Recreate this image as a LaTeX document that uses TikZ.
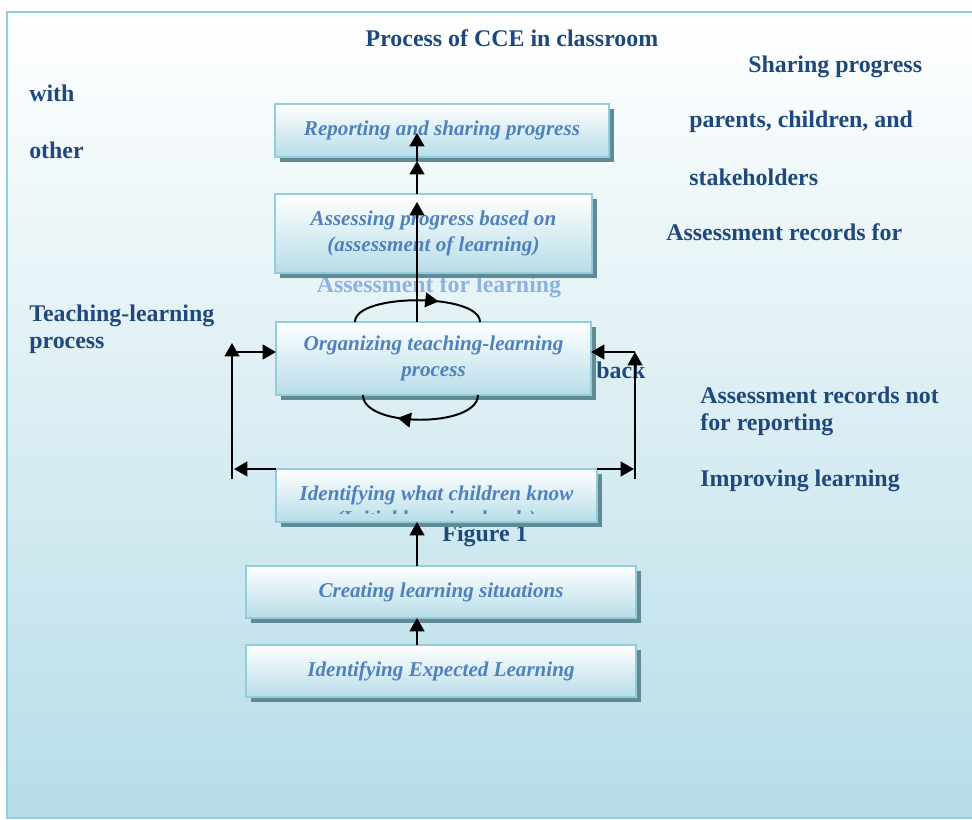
\documentclass[tikz,border=0pt]{standalone}
\usepackage{fontspec}
\setmainfont{Liberation Serif}
\usetikzlibrary{arrows.meta,calc,shadows,decorations.markings}
\definecolor{frameblue}{HTML}{92CDDC}
\definecolor{paleblue}{HTML}{B7DDE8}
\definecolor{darktext}{HTML}{1F497D}
\definecolor{boxtext}{HTML}{4F81BD}
\definecolor{lighttext}{HTML}{8DB3E2}
\definecolor{shadowgrey}{HTML}{628A95}
\tikzset{
  stage/.style={draw=frameblue, line width=1.4pt, top color=white, bottom color=paleblue,
    inner sep=0pt, outer sep=0pt, align=center, text=boxtext,
    font=\fontsize{15}{18}\selectfont\bfseries\itshape,
    drop shadow={shadow xshift=3.5pt, shadow yshift=-3.5pt, fill=shadowgrey, opacity=1}},
  note/.style={anchor=west, text=darktext, font=\fontsize{17}{19.2}\selectfont\bfseries,
    align=left, inner sep=0pt},
  arr/.style={line width=1.4pt, -{Triangle[length=9.5pt,width=10.5pt]}},
  cyclearr/.style={line width=1.4pt, postaction={decorate},
    decoration={markings, mark=at position #1 with {\arrow{Triangle[length=9.5pt,width=10.5pt]}}}}
}
\begin{document}
\begin{tikzpicture}[x=0.025cm, y=-0.025cm]
\useasboundingbox (0,0) rectangle (972,820);
% background panel
\shade[top color=white, bottom color=paleblue] (7,12) rectangle (1000,818);
\draw[frameblue, line width=1.4pt] (7,12) rectangle (1000,818);

% side notes
\node[note, anchor=center] (title) at (512,38) {Process of CCE in classroom};
\node[note] (share) at (748,67) {Sharing progress};
\node[note] (with) at (29,93) {with};
\node[note] (other) at (29,150) {other};
\node[note] (parents) at (689,122) {parents, children, and};
\node[note] (stake) at (689,177) {stakeholders};
\node[note] (recfor) at (666,232) {Assessment records for};
\node[note, text=lighttext, anchor=center] (afl) at (439,287) {Assessment for learning};
\node[note] (tlp) at (29,329) {Teaching-learning\\process};
\node[note] (back) at (596,370) {back};
\node[note] (recnot) at (700,411) {Assessment records not\\for reporting};
\node[note] (improve) at (700,481) {Improving learning};
\node[note, anchor=center] (fig) at (485,536) {Figure 1};

% stages
\node[stage, minimum width=8.35cm, minimum height=1.325cm] (rep) at (442,130.5) {Reporting and sharing progress};
\node[stage, minimum width=7.925cm, minimum height=1.975cm] (assess) at (433.5,233.5) {Assessing progress based on\\(assessment of learning)};
\node[stage, minimum width=7.875cm, minimum height=1.825cm] (organ) at (433.5,358.5) {Organizing teaching-learning\\process};
\node[stage, minimum width=8.025cm, minimum height=1.325cm] (ident) at (436.5,495.5) {Identifying what children know};
\begin{scope}
\clip ($(ident.north west)+(2,2)$) rectangle ($(ident.south east)+(-2,-9)$);
\node[text=boxtext, font=\fontsize{15}{18}\selectfont\bfseries\itshape, inner sep=0pt, text depth=0pt, anchor=base] (identb) at (436,525) {(Initial learning levels)};
\end{scope}
\node[stage, minimum width=9.75cm, minimum height=1.3cm] (create) at (441,592) {Creating learning situations};
\node[stage, minimum width=9.75cm, minimum height=1.3cm] (expect) at (441,671) {Identifying Expected Learning};

% upward spine
\coordinate (spine) at (417,0);
\draw[arr] (organ.north -| spine) -- ($(assess.north -| spine)+(0,8)$);
\draw[arr] (assess.north -| spine) -- ($(rep.south -| spine)+(0,4)$);
\draw[arr] ($(rep.south -| spine)+(0,4)$) -- ($(rep.south -| spine)+(0,-24)$);
\draw[arr] (create.north -| spine) -- (ident.south -| spine);
\draw[arr] (expect.north -| spine) -- (create.south -| spine);

% assessment for learning cycle
\draw[cyclearr=0.65] ($(organ.north west)+(79,0)$) .. controls +(0,-29) and +(0,-29) .. ($(organ.north west)+(204,0)$);
\draw[cyclearr=0.67] ($(organ.south west)+(202,0)$) .. controls +(0,33) and +(0,33) .. ($(organ.south west)+(87,0)$);

% feedback loops
\coordinate (lcorner) at (232,352);
\coordinate (rcorner) at (635,352);
\coordinate (lfoot) at (232,479);
\coordinate (rfoot) at (635,479);
\draw[arr] (ident.north west) -- ($(lcorner |- ident.north)+(2,0)$);
\draw[arr] (ident.north east) -- ($(rcorner |- ident.north)+(-1,0)$);
\draw[arr] (lfoot) -- ($(lcorner)+(0,-9)$);
\draw[arr] (lcorner) -- (lcorner -| organ.west);
\draw[arr] (rfoot) -- (rcorner);
\draw[arr] (rcorner) -- (rcorner -| organ.east);
\end{tikzpicture}
\end{document}
